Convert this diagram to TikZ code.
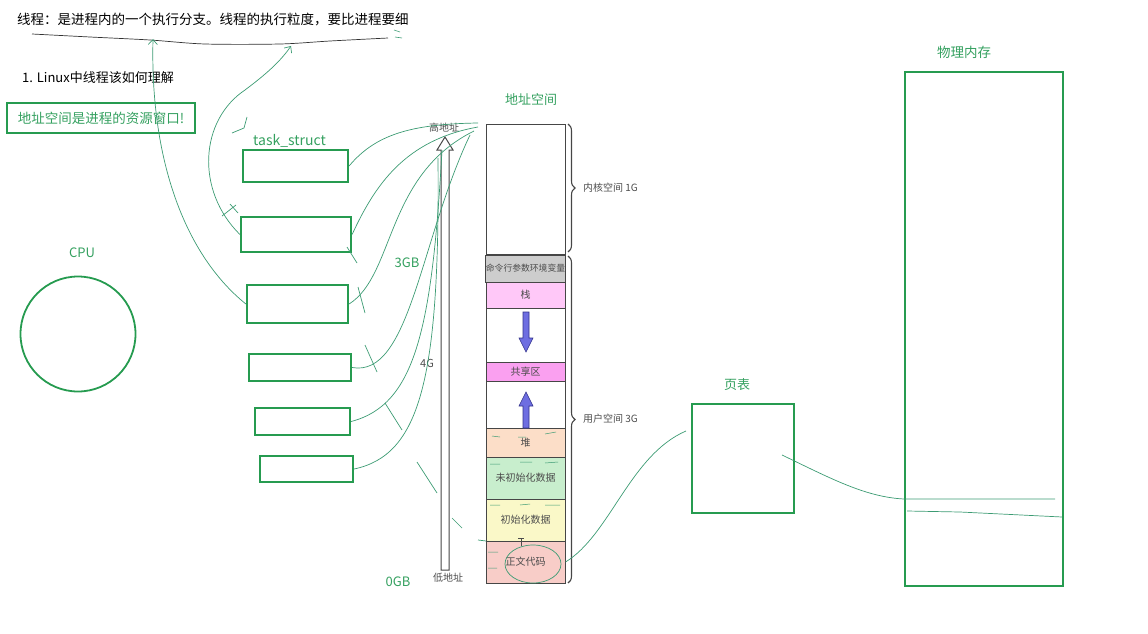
\documentclass[tikz,border=0pt]{standalone}
\usepackage{fontspec}
\setmainfont{Noto Sans CJK SC}
\usetikzlibrary{arrows.meta,decorations.pathreplacing}
\definecolor{gbox}{RGB}{38,155,80}
\definecolor{gtext}{RGB}{52,160,95}
\definecolor{handc}{RGB}{60,155,115}
\definecolor{segline}{RGB}{70,70,70}
\definecolor{cmdc}{RGB}{205,205,205}
\definecolor{stackc}{RGB}{255,200,248}
\definecolor{sharec}{RGB}{250,160,240}
\definecolor{heapc}{RGB}{252,222,200}
\definecolor{bssc}{RGB}{200,238,205}
\definecolor{datac}{RGB}{250,248,200}
\definecolor{textc}{RGB}{248,205,200}
\definecolor{bluea}{RGB}{110,110,225}
\definecolor{blueb}{RGB}{50,50,140}
\begin{document}
\begin{tikzpicture}[x=1pt,y=-1pt,
  gb/.style={draw=gbox, line width=2.2pt, inner sep=0pt},
  gl/.style={text=gtext, inner sep=0pt, font=\fontsize{13}{15}\selectfont},
  seg/.style={draw=segline, line width=1pt, minimum width=79pt, inner sep=0pt,
    font=\fontsize{10}{11}\selectfont, text=black!70},
  small/.style={inner sep=0pt, font=\fontsize{10}{11}\selectfont, text=black!70},
  hand/.style={draw=handc, line width=0.7pt},
  handarrow/.style={hand, -{Straight Barb[length=5pt,width=9pt]}},
  bluearrow/.style={fill=bluea, draw=blueb, line width=0.6pt},
  bracestyle/.style={segline, line width=1.1pt, decorate, decoration={brace, amplitude=7pt}}
]
\useasboundingbox (0,0) rectangle (1148,634);

% title and notes
\node[anchor=west, inner sep=0pt, font=\fontsize{13.5}{15}\selectfont] (title) at (17,20)
  {线程：是进程内的一个执行分支。线程的执行粒度，要比进程要细};
\draw[black!80, line width=0.7pt] plot[smooth] coordinates
  {(32,34) (90,37) (150,40) (205,44) (280,44) (330,41) (388,38)};
\draw[handc, line width=0.6pt] (394,30) -- (400,32) (395,37) -- (402,38);
\node[anchor=west, inner sep=0pt, font=\fontsize{13}{15}\selectfont] (q1) at (22,78)
  {1. Linux中线程该如何理解};
\node[gb, minimum width=188pt, minimum height=30pt, text=gtext,
  font=\fontsize{13.5}{15}\selectfont] (window) at (101,118) {地址空间是进程的资源窗口!};

% CPU
\node[gl] (cpulabel) at (82,253) {CPU};
\node[draw=gbox, line width=1.8pt, circle, minimum size=115pt, inner sep=0pt] (cpu) at (78,334) {};

% task_structs
\node[gl, anchor=west, font=\fontsize{14}{16}\selectfont] (tslabel) at (253,141) {task\_struct};
\node[gb, minimum width=105pt, minimum height=32pt] (ts1) at (295.5,166) {};
\node[gb, minimum width=110pt, minimum height=35pt] (ts2) at (296,234.5) {};
\node[gb, minimum width=101pt, minimum height=38pt] (ts3) at (297.5,304) {};
\node[gb, minimum width=102pt, minimum height=27pt] (ts4) at (300,367.5) {};
\node[gb, minimum width=95pt, minimum height=27pt] (ts5) at (302.5,421.5) {};
\node[gb, minimum width=93pt, minimum height=26pt] (ts6) at (306.5,469) {};

% GB labels
\node[gl] (g3) at (407,263) {3GB};
\node[gl] (g0) at (398,582) {0GB};
\node[small, font=\fontsize{11}{12}\selectfont] (g4) at (427,363) {4G};

% address axis (hollow arrow)
\node[small] (hi) at (444,128) {高地址};
\node[small] (lo) at (448,578) {低地址};
\draw[segline, line width=1pt, fill=white]
  (441,570) -- (441,150) -- (437,150) -- (445,137) -- (453,150) -- (449,150) -- (449,570) -- cycle;

% address space column
\node[gl] (aslabel) at (531,100) {地址空间};
\node[seg, minimum height=130pt, fill=white] (kern) at (525.5,189) {};
\node[seg, minimum height=27pt, fill=cmdc, font=\fontsize{8.8}{10}\selectfont] (cmd) at (525.5,268.5) {命令行参数环境变量};
\node[seg, minimum height=26pt, fill=stackc] (stack) at (525.5,295) {栈};
\node[seg, minimum height=54pt, fill=white] (gap1) at (525.5,335) {};
\node[seg, minimum height=19pt, fill=sharec] (share) at (525.5,371.5) {共享区};
\node[seg, minimum height=47pt, fill=white] (gap2) at (525.5,404.5) {};
\node[seg, minimum height=29pt, fill=heapc] (heap) at (525.5,442.5) {堆};
\node[seg, minimum height=42pt, fill=bssc] (bss) at (525.5,478) {未初始化数据};
\node[seg, minimum height=42pt, fill=datac] (data) at (525.5,520) {初始化数据};
\node[seg, minimum height=42pt, fill=textc] (code) at (525.5,562) {正文代码};

% blue arrows
\filldraw[bluearrow] (523,312) -- (529,312) -- (529,338) -- (533,338) -- (526,352) -- (519,338) -- (523,338) -- cycle;
\filldraw[bluearrow] (523,428) -- (529,428) -- (529,406) -- (533,406) -- (526,392) -- (519,406) -- (523,406) -- cycle;

% braces
\draw[bracestyle] (568,124) -- (568,252);
\draw[bracestyle] (568,256) -- (568,583);
\node[small, anchor=west] (kspace) at (583,188) {内核空间 1G};
\node[small, anchor=west] (uspace) at (583,419) {用户空间 3G};

% page table and physical memory
\node[gl] (ptlabel) at (737,385) {页表};
\node[gb, minimum width=102pt, minimum height=109pt] (pt) at (743,458.5) {};
\node[gl, font=\fontsize{13.5}{15}\selectfont] (pmlabel) at (964,52) {物理内存};
\node[gb, minimum width=158pt, minimum height=514pt] (pm) at (984,329) {};

% hand-drawn connectors
\coordinate (u1) at (153,39);
\coordinate (u2) at (291,46);
\coordinate (e1) at (478,123);
\coordinate (e2) at (478,127);
\coordinate (e3) at (474,131);
\coordinate (e4) at (470,135);
\coordinate (e5) at (442,150);
\coordinate (e6) at (438,158);
\coordinate (ptin) at (686,431);
\coordinate (ptout) at (782,455);
\coordinate (pm1) at (1055,499);
\coordinate (pm2) at (1062,517);

\draw[handarrow] (ts3.west) .. controls (185,255) and (150,160) .. (u1);
\draw[handarrow] (ts2.west) .. controls (195,190) and (200,120) .. (245,90) .. controls (265,75) and (280,62) .. (u2);

\draw[hand] (ts1.east) .. controls (375,135) and (410,124) .. (e1);
\draw[hand] (ts2.east) .. controls (375,185) and (405,140) .. (e2);
\draw[hand] (ts3.east) .. controls (395,275) and (385,175) .. (e3);
\draw[hand] (ts4.east) .. controls (410,378) and (420,240) .. (e4);
\draw[hand] (ts5.east) .. controls (415,405) and (432,330) .. (e5);
\draw[hand] (ts6.east) .. controls (420,455) and (440,380) .. (e6);

% tick marks
\draw[hand] (247,117) -- (244,128) -- (232,133);
\draw[hand] (222,216) -- (236,205) (230,204) -- (238,213);
\draw[hand] (347,247) -- (357,263);
\draw[hand] (358,287) -- (365,313);
\draw[hand] (365,345) -- (377,372);
\draw[hand] (385,403) -- (402,430);
\draw[hand] (417,462) -- (437,493);
\draw[hand] (452,518) -- (462,528);
\draw[hand] (478,540) -- (486,541);

% dashes in segments
\draw[hand, line width=0.5pt] (492,436) -- (500,437) (518,437) -- (526,437) (545,434) -- (556,432)
  (490,464) -- (500,464) (520,462) -- (532,462) (545,463) -- (558,462)
  (490,505) -- (500,505) (520,505) -- (530,504) (545,505) -- (560,505)
  (488,552) -- (498,552) (488,568) -- (497,568);
\draw[black!70, line width=0.6pt] (518,538) -- (524,538) (521,538) -- (521,546);

% text segment to page table to physical memory
\draw[hand] (533,564) ellipse [x radius=28, y radius=19];
\draw[hand] (code.east) .. controls (610,535) and (630,455) .. (ptin);
\draw[hand] (ptout) .. controls (830,478) and (865,497) .. (pm.west |- 0,499) -- (pm1);
\draw[hand] (907,511) -- (960,512) -- (pm2);
\end{tikzpicture}
\end{document}
